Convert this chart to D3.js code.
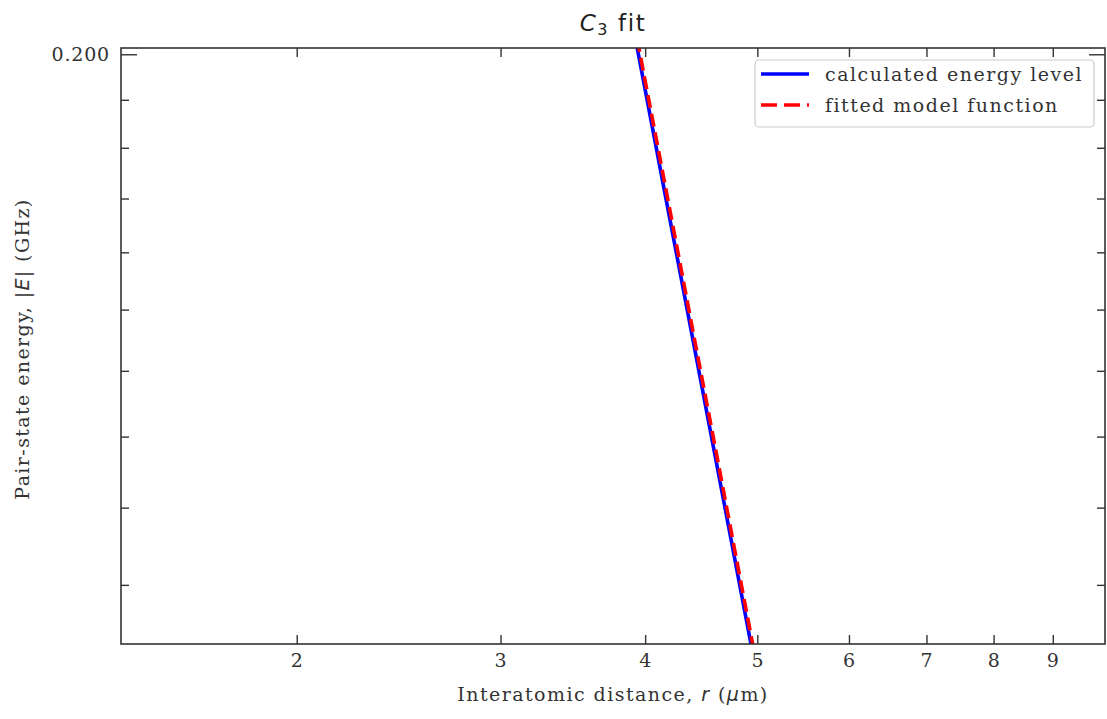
<!DOCTYPE html>
<html>
<head>
<meta charset="utf-8">
<script src="https://cdn.jsdelivr.net/npm/d3@7"></script>
<style>
  html, body { margin: 0; padding: 0; background: #fff; }
  svg { display: block; }
  .tick text { font-family: "DejaVu Serif", serif; font-size: 19px; letter-spacing: 0.8px; fill: #333; }
  .tick line { stroke: #333; stroke-width: 1.4; }
</style>
</head>
<body>
<svg id="chart" width="1107" height="719"></svg>
<script>
// Pair-state energy versus interatomic distance (log-log), C3 fit.
const distances = [3.8, 4.0, 4.2, 4.4, 4.6, 4.8, 5.0, 5.1];            // r (µm)
const calculatedEnergy = [0.2238, 0.1922, 0.1663, 0.1449, 0.1270, 0.1119, 0.0991, 0.0935]; // |E| (GHz)
const fittedEnergy = [0.2260, 0.1941, 0.1680, 0.1463, 0.1283, 0.1130, 0.1001, 0.0944];     // |E| (GHz)

const xTickValues = [2, 3, 4, 5, 6, 7, 8, 9];
const yMajorTicks = [0.2];
const yMinorTicks = [0.11, 0.12, 0.13, 0.14, 0.15, 0.16, 0.17, 0.18, 0.19];
const xDomain = [1.41, 9.985];
const yDomain = [0.10291, 0.20142];

const seriesLabels = ["calculated energy level", "fitted model function"];

const svg = d3.select("#chart");
const plot = { left: 121, right: 1105, top: 48, bottom: 644 };
const serif = "DejaVu Serif, serif";
const sans = "DejaVu Sans, sans-serif";

const x = d3.scaleLog().domain(xDomain).range([plot.left, plot.right]);
const y = d3.scaleLog().domain(yDomain).range([plot.bottom, plot.top]);

svg.append("defs").append("clipPath").attr("id", "plot-clip")
  .append("rect")
  .attr("x", plot.left).attr("y", plot.top)
  .attr("width", plot.right - plot.left).attr("height", plot.bottom - plot.top);

// Axes: ticks point inward on all four sides
function styleAxis(g) {
  g.select(".domain").remove();
}
svg.append("g")
  .attr("transform", `translate(0,${plot.bottom})`)
  .call(d3.axisBottom(x).tickValues(xTickValues).tickFormat(d3.format("d")).tickSize(-9).tickPadding(10))
  .call(styleAxis);
svg.append("g")
  .attr("transform", `translate(0,${plot.top})`)
  .call(d3.axisTop(x).tickValues(xTickValues).tickFormat("").tickSize(-9))
  .call(styleAxis);
svg.append("g")
  .attr("transform", `translate(${plot.left},0)`)
  .call(d3.axisLeft(y).tickValues(yMajorTicks).tickFormat(d3.format(".3f")).tickSize(-16).tickPadding(11))
  .call(styleAxis);
svg.append("g")
  .attr("transform", `translate(${plot.left},0)`)
  .call(d3.axisLeft(y).tickValues(yMinorTicks).tickFormat("").tickSize(-8))
  .call(styleAxis);
svg.append("g")
  .attr("transform", `translate(${plot.right},0)`)
  .call(d3.axisRight(y).tickValues(yMajorTicks).tickFormat("").tickSize(-16))
  .call(styleAxis);
svg.append("g")
  .attr("transform", `translate(${plot.right},0)`)
  .call(d3.axisRight(y).tickValues(yMinorTicks).tickFormat("").tickSize(-8))
  .call(styleAxis);

// Lines
const line = d3.line().x(d => x(d[0])).y(d => y(d[1]));
const lines = svg.append("g").attr("clip-path", "url(#plot-clip)");
lines.append("path")
  .datum(distances.map((r, i) => [r, calculatedEnergy[i]]))
  .attr("d", line)
  .attr("fill", "none").attr("stroke", "#0000ff").attr("stroke-width", 3.6);
lines.append("path")
  .datum(distances.map((r, i) => [r, fittedEnergy[i]]))
  .attr("d", line)
  .attr("fill", "none").attr("stroke", "#ff0000").attr("stroke-width", 3.6)
  .attr("stroke-dasharray", "13,6");

// Frame
svg.append("rect")
  .attr("x", plot.left).attr("y", plot.top)
  .attr("width", plot.right - plot.left).attr("height", plot.bottom - plot.top)
  .attr("fill", "none").attr("stroke", "#333").attr("stroke-width", 1.6);

// Title
const title = svg.append("text")
  .attr("x", (plot.left + plot.right) / 2).attr("y", 31)
  .attr("text-anchor", "middle")
  .attr("font-family", sans).attr("font-size", 23).attr("letter-spacing", "1.6px").attr("fill", "#222");
title.append("tspan").attr("font-style", "italic").text("C");
title.append("tspan").attr("font-size", 16).attr("dy", 4).text("3");
title.append("tspan").attr("dy", -4).text(" fit");

// Axis labels
const xLabel = svg.append("text")
  .attr("x", (plot.left + plot.right) / 2).attr("y", 701)
  .attr("text-anchor", "middle")
  .attr("font-family", serif).attr("font-size", 19).attr("letter-spacing", "1.45px").attr("fill", "#333");
xLabel.append("tspan").text("Interatomic distance, ");
xLabel.append("tspan").attr("font-style", "italic").attr("font-family", sans).text("r");
xLabel.append("tspan").text(" (");
xLabel.append("tspan").attr("font-style", "italic").attr("font-family", sans).text("\u03bc");
xLabel.append("tspan").text("m)");

const yLabel = svg.append("text")
  .attr("transform", `translate(29,${(plot.top + plot.bottom) / 2 + 3}) rotate(-90)`)
  .attr("text-anchor", "middle")
  .attr("font-family", serif).attr("font-size", 19).attr("letter-spacing", "1.4px").attr("fill", "#333");
yLabel.append("tspan").text("Pair-state energy, |");
yLabel.append("tspan").attr("font-style", "italic").attr("font-family", sans).text("E");
yLabel.append("tspan").text("| (GHz)");

// Legend
const legend = svg.append("g");
legend.append("rect")
  .attr("x", 755).attr("y", 60).attr("width", 339).attr("height", 67).attr("rx", 4)
  .attr("fill", "#fff").attr("fill-opacity", 0.8).attr("stroke", "#ccc").attr("stroke-width", 1.2);
const legendStyles = [
  { color: "#0000ff", dash: null },
  { color: "#ff0000", dash: "16,7" }
];
seriesLabels.forEach((label, i) => {
  const cy = 74 + i * 31;
  legend.append("line")
    .attr("x1", 761).attr("x2", 809).attr("y1", cy).attr("y2", cy)
    .attr("stroke", legendStyles[i].color).attr("stroke-width", 3.6)
    .attr("stroke-dasharray", legendStyles[i].dash);
  legend.append("text")
    .attr("x", 825).attr("y", cy + 7)
    .attr("font-family", serif).attr("font-size", 19).attr("letter-spacing", "1.5px").attr("fill", "#333")
    .text(label);
});
</script>
</body>
</html>
